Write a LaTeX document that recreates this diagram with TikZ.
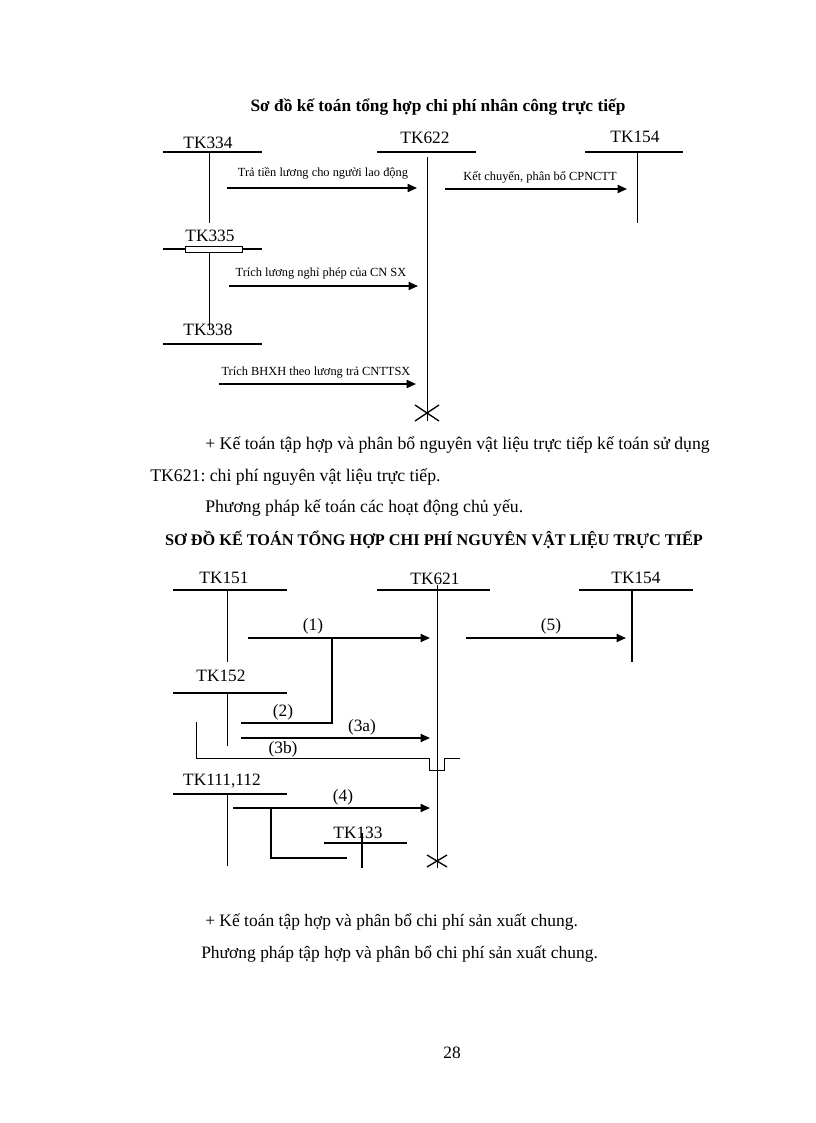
\documentclass[tikz,border=0pt]{standalone}
\usepackage{fontspec}
\setmainfont{Liberation Serif}
\usetikzlibrary{arrows.meta}
\frenchspacing
\begin{document}
\begin{tikzpicture}[x=0.75pt,y=-0.75pt,
  tline/.style={line width=1.4pt},
  bline/.style={line width=0.8pt},
  vline/.style={line width=0.6pt},
  arr/.style={line width=1.3pt,-{Triangle[length=7pt,width=6pt]}},
  link/.style={line width=1.1pt},
  acct/.style={font=\fontsize{13}{15}\selectfont, inner sep=0pt},
  small/.style={font=\fontsize{9.3}{11}\selectfont, inner sep=0pt},
  para/.style={font=\fontsize{13.3}{15}\selectfont, inner sep=0pt, anchor=west},
  parab/.style={font=\fontsize{13.1}{15}\selectfont, inner sep=0pt, anchor=west},
  num/.style={font=\fontsize{13}{15}\selectfont, inner sep=0pt},
  xmark/.style={line width=1pt}
]
\useasboundingbox (0,0) rectangle (816,1123);
\fill[white] (0,0) rectangle (816,1123);

% ---------- top diagram ----------
\node[font=\bfseries\fontsize{13}{15}\selectfont, inner sep=0pt] (title1) at (438,107) {Sơ đồ kế toán tổng hợp chi phí nhân công trực tiếp};

\node[acct] (t334) at (208,143) {TK334};
\node[acct] (t622) at (425,138) {TK622};
\node[acct] (t154a) at (635,137) {TK154};
\node[acct] (t335) at (210,236) {TK335};
\node[acct] (t338) at (208,330) {TK338};

\coordinate (a334l) at (163,152); \coordinate (a334r) at (262,152);
\coordinate (a334t) at (209,152); \coordinate (a334b) at (209,223);
\coordinate (a335l) at (163,249); \coordinate (a335r) at (262,249);
\coordinate (a335t) at (209,252); \coordinate (a335b) at (209,330);
\coordinate (a338l) at (163,344); \coordinate (a338r) at (262,344);
\coordinate (a622l) at (377,152); \coordinate (a622r) at (476,152);
\coordinate (a622t) at (427,157); \coordinate (a622b) at (427,421);
\coordinate (a154l) at (585,152); \coordinate (a154r) at (683,152);
\coordinate (a154t) at (637,152); \coordinate (a154b) at (637,223);

\draw[tline] (a334l) -- (a334r);
\draw[vline] (a334t) -- (a334b);
\draw[tline] (a335l) -- (a335r);
\draw[vline, fill=white] (185,246) rectangle (242,252);
\draw[vline] (a335t) -- (a335b);
\draw[tline] (a338l) -- (a338r);
\draw[tline] (a622l) -- (a622r);
\draw[vline] (a622t) -- (a622b);
\draw[tline] (a154l) -- (a154r);
\draw[vline] (a154t) -- (a154b);
\draw[xmark] (415,405) -- (439,421) (415,421) -- (439,405);

\coordinate (r1s) at (227,188); \coordinate (r1e) at (417,188);
\coordinate (r2s) at (445,189); \coordinate (r2e) at (627,189);
\coordinate (r3s) at (229,286); \coordinate (r3e) at (418,286);
\coordinate (r4s) at (219,384); \coordinate (r4e) at (416,384);
\draw[arr] (r1s) -- (r1e);
\draw[arr] (r2s) -- (r2e);
\draw[arr] (r3s) -- (r3e);
\draw[arr] (r4s) -- (r4e);
\node[small] (l1) at (323,173) {Trả tiền lương cho người lao động};
\node[small] (l2) at (540,177) {Kết chuyển, phân bổ CPNCTT};
\node[small] (l3) at (321,274) {Trích lương nghỉ phép của CN SX};
\node[small] (l4) at (316,373) {Trích BHXH theo lương trả CNTTSX};

% ---------- text ----------
\node[para] (p1) at (205,445) {+ Kế toán tập hợp và phân bổ nguyên vật liệu trực tiếp kế toán sử dụng};
\node[para] (p2) at (150,477) {TK621: chi phí nguyên vật liệu trực tiếp.};
\node[para] (p3) at (205,508) {Phương pháp kế toán các hoạt động chủ yếu.};
\node[font=\bfseries\fontsize{12.2}{14}\selectfont, inner sep=0pt] (title2) at (434,540) {SƠ ĐỒ KẾ TOÁN TỔNG HỢP CHI PHÍ NGUYÊN VẬT LIỆU TRỰC TIẾP};

% ---------- bottom diagram ----------
\node[acct] (t151) at (224,578) {TK151};
\node[acct] (t621) at (435,579) {TK621};
\node[acct] (t154b) at (636,578) {TK154};
\node[acct] (t152) at (221,676) {TK152};
\node[acct] (t111) at (222,781) {TK111,112};
\node[acct] (t133) at (358,833) {TK133};

\coordinate (b151l) at (173,590); \coordinate (b151r) at (287,590);
\coordinate (b151t) at (227,590); \coordinate (b151b) at (227,662);
\coordinate (b152l) at (173,693); \coordinate (b152r) at (287,693);
\coordinate (b152t) at (227,693); \coordinate (b152b) at (227,746);
\coordinate (b621l) at (377,590); \coordinate (b621r) at (490,590);
\coordinate (b621t) at (437,585); \coordinate (b621b) at (437,868);
\coordinate (b154l) at (579,590); \coordinate (b154r) at (693,590);
\coordinate (b154t) at (632,590); \coordinate (b154b) at (632,662);
\coordinate (b111l) at (173,794); \coordinate (b111r) at (287,794);
\coordinate (b111t) at (227,794); \coordinate (b111b) at (227,866);
\coordinate (b133l) at (324,843); \coordinate (b133r) at (407,843);
\coordinate (b133t) at (362,833); \coordinate (b133b) at (362,868);

\draw[bline] (b151l) -- (b151r);
\draw[vline] (b151t) -- (b151b);
\draw[bline] (b152l) -- (b152r);
\draw[vline] (b152t) -- (b152b);
\draw[bline] (b621l) -- (b621r);
\draw[vline] (b621t) -- (b621b);
\draw[bline] (b154l) -- (b154r);
\draw[link] (b154t) -- (b154b);
\draw[tline] (b111l) -- (b111r);
\draw[vline] (b111t) -- (b111b);
\draw[bline] (b133l) -- (b133r);
\draw[link] (b133t) -- (b133b);
\draw[xmark] (427,855) -- (447,867) (427,867) -- (447,855);

\coordinate (s1) at (248,638); \coordinate (e1) at (430,638);
\coordinate (s5) at (466,638); \coordinate (e5) at (626,638);
\coordinate (s2) at (241,723); \coordinate (k2) at (332,723); \coordinate (j2) at (332,638);
\coordinate (s3a) at (241,738); \coordinate (e3a) at (430,738);
\coordinate (s4) at (233,808); \coordinate (e4) at (430,808);
\coordinate (k4) at (271,808); \coordinate (c4) at (271,858); \coordinate (e4b) at (347,858);

\draw[arr] (s1) -- (e1);
\draw[arr] (s5) -- (e5);
\draw[link] (s2) -- (k2) -- (j2);
\draw[arr] (s3a) -- (e3a);
\draw[vline] (196,722) -- (196,758) -- (429,758) -- (429,770) -- (444,770) -- (444,758) -- (460,758);
\draw[arr] (s4) -- (e4);
\draw[link] (k4) -- (c4) -- (e4b);

\node[num] (n1) at (313,626) {(1)};
\node[num] (n5) at (551,626) {(5)};
\node[num] (n2) at (283,712) {(2)};
\node[num] (n3a) at (362,727) {(3a)};
\node[num] (n3b) at (283,749) {(3b)};
\node[num] (n4) at (343,797) {(4)};

% ---------- bottom text ----------
\node[parab] (p4) at (205,922) {+ Kế toán tập hợp và phân bổ chi phí sản xuất chung.};
\node[parab] (p5) at (201,954) {Phương pháp tập hợp và phân bổ chi phí sản xuất chung.};
\node[num] (page) at (452,1053) {28};
\end{tikzpicture}
\end{document}
